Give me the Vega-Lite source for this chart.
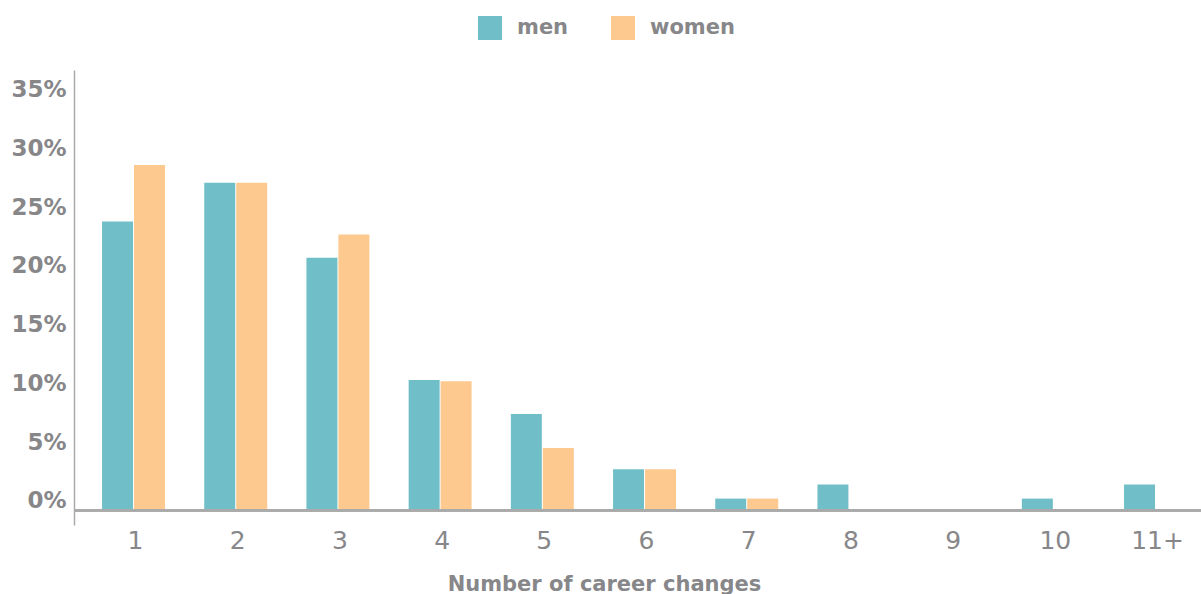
{
  "$schema": "https://vega.github.io/schema/vega-lite/v6.json",
  "autosize": "none",
  "width": 1127,
  "height": 455,
  "padding": {"left": 74, "top": 70, "right": 0, "bottom": 69},
  "background": "white",
  "config": {
    "view": {"stroke": null},
    "font": "DejaVu Sans"
  },
  "data": {
    "values": [
      {"changes": "1", "gender": "men", "share": 24.6},
      {"changes": "1", "gender": "women", "share": 29.4},
      {"changes": "2", "gender": "men", "share": 27.9},
      {"changes": "2", "gender": "women", "share": 27.9},
      {"changes": "3", "gender": "men", "share": 21.5},
      {"changes": "3", "gender": "women", "share": 23.5},
      {"changes": "4", "gender": "men", "share": 11.1},
      {"changes": "4", "gender": "women", "share": 11.0},
      {"changes": "5", "gender": "men", "share": 8.2},
      {"changes": "5", "gender": "women", "share": 5.3},
      {"changes": "6", "gender": "men", "share": 3.5},
      {"changes": "6", "gender": "women", "share": 3.5},
      {"changes": "7", "gender": "men", "share": 1.0},
      {"changes": "7", "gender": "women", "share": 1.0},
      {"changes": "8", "gender": "men", "share": 2.2},
      {"changes": "8", "gender": "women", "share": 0},
      {"changes": "9", "gender": "men", "share": 0},
      {"changes": "9", "gender": "women", "share": 0},
      {"changes": "10", "gender": "men", "share": 1.0},
      {"changes": "10", "gender": "women", "share": 0},
      {"changes": "11+", "gender": "men", "share": 2.2},
      {"changes": "11+", "gender": "women", "share": 0}
    ]
  },
  "layer": [
    {
      "mark": {"type": "bar"},
      "encoding": {
        "x": {
          "field": "changes",
          "type": "nominal",
          "sort": null,
          "scale": {"paddingInner": 0.384, "paddingOuter": 0.2057, "align": 0.667},
          "axis": {
            "title": "Number of career changes",
            "titleFont": "DejaVu Sans",
            "titleFontSize": 21,
            "titleFontWeight": "bold",
            "titleColor": "#87878a",
            "titleX": 530,
            "titleY": 65,
            "titleAlign": "center",
            "titleBaseline": "alphabetic",
            "labelAngle": 0,
            "labelFontSize": 25,
            "labelColor": "#87878a",
            "labelFont": "DejaVu Sans",
            "labelPadding": 3,
            "labelOffset": 2,
            "ticks": false,
            "domain": false,
            "grid": false
          }
        },
        "xOffset": {
          "field": "gender",
          "type": "nominal",
          "scale": {"paddingInner": 0.031}
        },
        "y": {
          "field": "share",
          "type": "quantitative",
          "scale": {"domain": [-1.25, 37.5], "nice": false, "zero": false},
          "axis": {
            "title": null,
            "values": [0, 5, 10, 15, 20, 25, 30, 35],
            "labelExpr": "datum.value + '%'",
            "labelFontSize": 23,
            "labelFontWeight": "bold",
            "labelColor": "#87878a",
            "labelFont": "DejaVu Sans",
            "labelBaseline": "alphabetic",
            "labelOffset": -2.6,
            "labelPadding": 8,
            "ticks": false,
            "grid": false,
            "domain": true,
            "domainColor": "#aaaaaa",
            "domainWidth": 1.5
          }
        },
        "y2": {"datum": 0},
        "color": {
          "field": "gender",
          "type": "nominal",
          "scale": {"domain": ["men", "women"], "range": ["#70bfc8", "#fdc98f"]},
          "legend": {
            "title": null,
            "orient": "none",
            "direction": "horizontal",
            "legendX": 404,
            "legendY": -54,
            "symbolType": "square",
            "symbolSize": 576,
            "symbolStrokeWidth": 0,
            "labelFontSize": 21,
            "labelFontWeight": "bold",
            "labelColor": "#87878a",
            "labelFont": "DejaVu Sans",
            "labelOffset": 15,
            "columnPadding": 42,
            "padding": 0
          }
        }
      }
    },
    {
      "mark": {"type": "rule", "color": "#aaaaaa", "strokeWidth": 2},
      "encoding": {"y": {"datum": 0}}
    }
  ]
}
